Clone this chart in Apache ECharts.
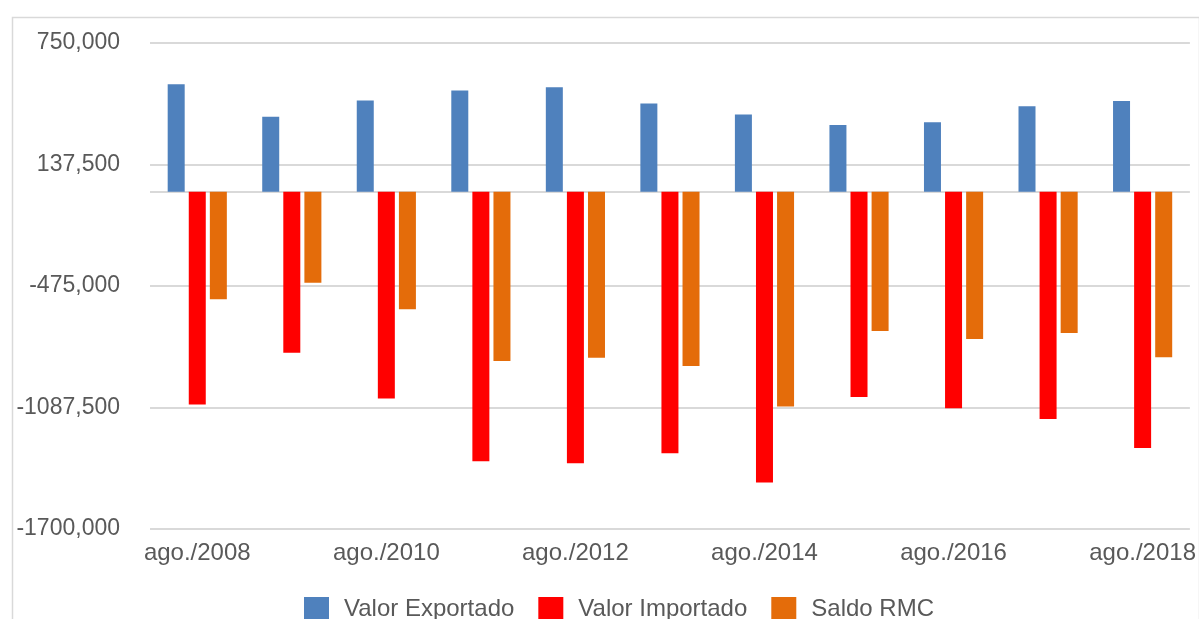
<!DOCTYPE html>
<html>
<head>
<meta charset="utf-8">
<script src="https://cdn.jsdelivr.net/npm/echarts@6/dist/echarts.min.js"></script>
<style>
html,body{margin:0;padding:0;background:#fff;}
#chart{width:1199px;height:619px;}
</style>
</head>
<body>
<div id="chart"></div>
<script>
const categories = ['ago./2008','ago./2009','ago./2010','ago./2011','ago./2012','ago./2013','ago./2014','ago./2015','ago./2016','ago./2017','ago./2018'];
const valorExportado = [542000, 378000, 460000, 511000, 527000, 445000, 389000, 336000, 350000, 431000, 457000];
const valorImportado = [-1073000, -812000, -1042000, -1359000, -1369000, -1318000, -1466000, -1035000, -1091000, -1146000, -1292000];
const saldoRMC = [-542000, -459000, -592000, -853000, -837000, -878000, -1083000, -702000, -742000, -712000, -834000];
const yTicks = [-1700000, -1087500, -475000, 137500, 750000];
const yTickLabels = ['-1700,000', '-1087,500', '-475,000', '137,500', '750,000'];

const FONT = '"Liberation Sans", Arial, Helvetica, sans-serif';
const TXT = '#595959';
const GRIDC = '#d9d9d9';

const chart = echarts.init(document.getElementById('chart'));
chart.setOption({
  animation: false,
  textStyle: { fontFamily: FONT },
  graphic: [{
    type: 'rect', left: 10, top: 15, z: -10,
    shape: { width: 1187, height: 700 },
    style: { fill: 'none', stroke: '#d9d9d9', lineWidth: 1.5 }
  }],
  grid: { left: 150, right: 9, top: 43, bottom: 90, containLabel: false },
  legend: {
    left: 304, top: 597, padding: 0,
    itemWidth: 25, itemHeight: 25, itemGap: 24,
    icon: 'rect',
    textStyle: { fontSize: 24, color: TXT, fontFamily: FONT, padding: [0, 0, 0, 10] },
    data: ['Valor Exportado', 'Valor Importado', 'Saldo RMC']
  },
  xAxis: {
    type: 'category',
    data: categories,
    axisLine: { show: false, onZero: false },
    axisTick: { show: false },
    axisLabel: { interval: 1, margin: 12, fontSize: 24, color: TXT, fontFamily: FONT },
    splitLine: { show: false }
  },
  yAxis: {
    type: 'value',
    min: yTicks[0], max: yTicks[yTicks.length - 1], interval: 612500,
    axisLine: { show: false }, axisTick: { show: false },
    axisLabel: {
      margin: 30, fontSize: 23, color: TXT, fontFamily: FONT,
      formatter: function (v) {
        let i = yTicks.findIndex(t => Math.abs(t - v) < 1);
        return i >= 0 ? yTickLabels[i] : '';
      }
    },
    splitLine: { lineStyle: { color: GRIDC, width: 2 } }
  },
  series: [
    {
      name: 'Valor Exportado', type: 'bar', data: valorExportado,
      barWidth: 17, barGap: '24%', itemStyle: { color: '#4f81bd' },
      markLine: {
        silent: true, symbol: 'none', label: { show: false },
        lineStyle: { color: GRIDC, width: 2, type: 'solid' },
        data: [{ yAxis: 0 }], z: 1
      }
    },
    { name: 'Valor Importado', type: 'bar', data: valorImportado, barWidth: 17, barGap: '24%', itemStyle: { color: '#ff0000' } },
    { name: 'Saldo RMC', type: 'bar', data: saldoRMC, barWidth: 17, barGap: '24%', itemStyle: { color: '#e46c0a' } }
  ]
});
</script>
</body>
</html>
